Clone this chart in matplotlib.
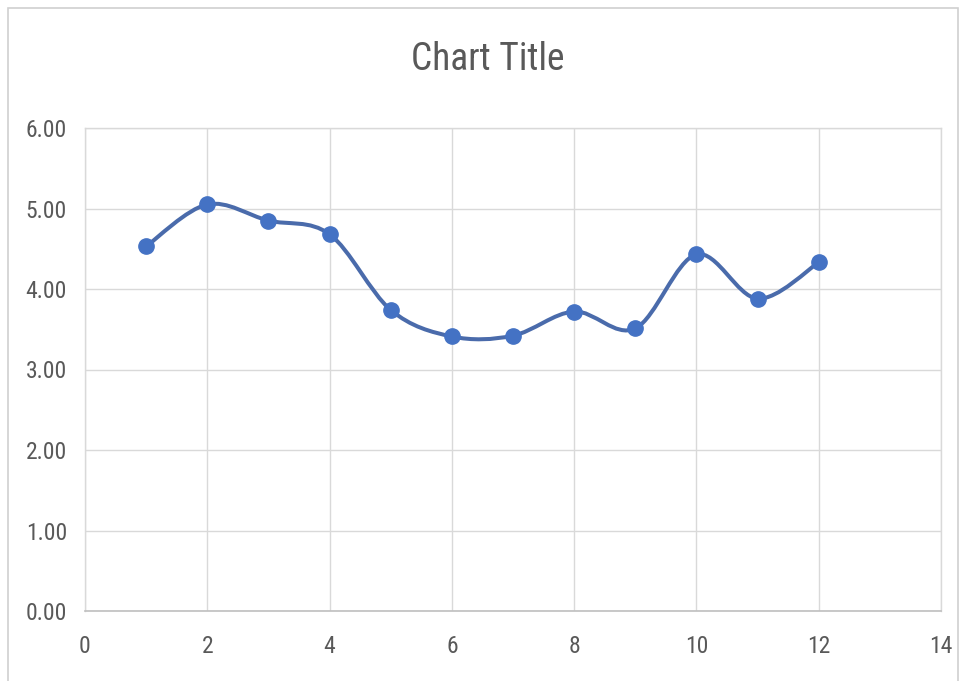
import numpy as np
import matplotlib
matplotlib.use("Agg")
import matplotlib.pyplot as plt
from matplotlib.patches import Rectangle
from matplotlib.path import Path
from matplotlib.patches import PathPatch
from matplotlib import font_manager

x_vals = [1, 2, 3, 4, 5, 6, 7, 8, 9, 10, 11, 12]
y_vals = [4.53, 5.05, 4.85, 4.68, 3.74, 3.41, 3.42, 3.72, 3.51, 4.43, 3.88, 4.33]
x_ticks = [0, 2, 4, 6, 8, 10, 12, 14]
y_ticks = [0, 1, 2, 3, 4, 5, 6]
title = "Chart Title"

line_color = "#4a6bab"
marker_color = "#4472C4"
grid_color = "#d9d9d9"
text_color = "#595959"

names = {f.name for f in font_manager.fontManager.ttflist}
fam = "DejaVu Sans"
for cand in ["Liberation Sans Narrow", "DejaVu Sans Condensed", "Roboto Condensed", "Open Sans Condensed", "Roboto"]:
    if cand in names:
        fam = cand
        break
plt.rcParams['font.family'] = [fam, 'DejaVu Sans']
stretch = "condensed" if fam == "DejaVu Sans" else "normal"

fig = plt.figure(figsize=(9.59, 6.81), dpi=100)
fig.patch.set_facecolor("white")
W, H = 959, 681
fig.patches.append(Rectangle((8 / W, -0.05), (958 - 8) / W, (H - 8) / H + 0.05,
                             transform=fig.transFigure, fill=False,
                             edgecolor="#d0d0d0", linewidth=1.2))

ax = fig.add_axes([85 / W, (H - 611) / H, (941 - 85) / W, (611 - 128) / H])
ax.set_xlim(0, 14)
ax.set_ylim(0, 6)

# Excel-like smoothed line: cubic Bezier through points (Catmull-Rom, tension 1/6)
xs = np.array(x_vals, float)
ys = np.array(y_vals, float)
n = len(xs)
verts = [(xs[0], ys[0])]
codes = [Path.MOVETO]
for i in range(n - 1):
    p0 = np.array([xs[max(i - 1, 0)], ys[max(i - 1, 0)]])
    p1 = np.array([xs[i], ys[i]])
    p2 = np.array([xs[i + 1], ys[i + 1]])
    p3 = np.array([xs[min(i + 2, n - 1)], ys[min(i + 2, n - 1)]])
    c1 = p1 + (p2 - p0) / 6.0
    c2 = p2 - (p3 - p1) / 6.0
    verts += [tuple(c1), tuple(c2), tuple(p2)]
    codes += [Path.CURVE4, Path.CURVE4, Path.CURVE4]
ax.add_patch(PathPatch(Path(verts, codes), facecolor="none", edgecolor=line_color,
                       linewidth=2.9, zorder=3, capstyle="round"))
ax.plot(x_vals, y_vals, linestyle="none", marker="o", markersize=11,
        color=marker_color, zorder=4)

ax.set_xticks(x_ticks)
ax.set_yticks(y_ticks)
ax.set_xticklabels([str(v) for v in x_ticks], fontstretch=stretch)
ax.set_yticklabels([f"{v:.2f}" for v in y_ticks], fontstretch=stretch)
ax.grid(True, color=grid_color, linewidth=1.0)
ax.set_axisbelow(True)
for s in ["left", "top", "right"]:
    ax.spines[s].set_color(grid_color)
    ax.spines[s].set_linewidth(1.0)
ax.spines["bottom"].set_color("#bfbfbf")
ax.spines["bottom"].set_linewidth(1.2)
ax.tick_params(length=0, labelsize=17, labelcolor=text_color)
ax.tick_params(axis="y", pad=13)
ax.tick_params(axis="x", pad=17)

fig.text(488 / W, 1 - 60 / H, title, ha="center", va="center",
         fontsize=27, color=text_color, fontstretch=stretch)

fig.savefig("out.png", dpi=100, facecolor="white")
